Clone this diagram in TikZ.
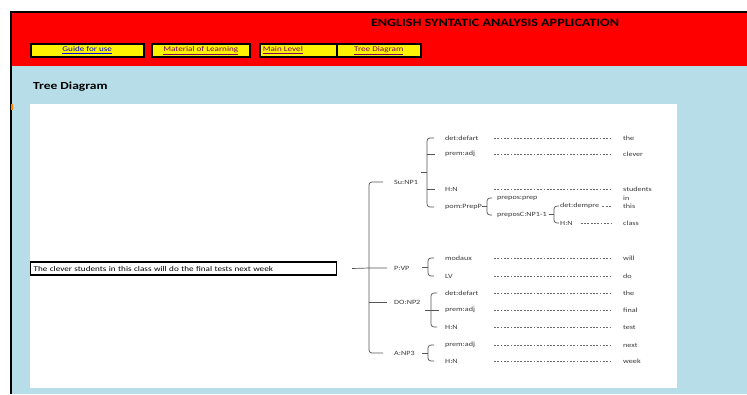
\documentclass[tikz,border=0pt]{standalone}
\usepackage{fontspec}
\setmainfont{Carlito}[FakeStretch=1.25]
\usetikzlibrary{calc}
\definecolor{skyb}{HTML}{B7DDE8}
\definecolor{lbl}{HTML}{3A3A3A}
\definecolor{linkblue}{HTML}{0000EE}
\definecolor{linkpurple}{HTML}{800060}
\definecolor{bargray}{HTML}{555555}
\tikzset{
  lab/.style={anchor=west, inner sep=0pt, font=\fontsize{6.5}{7.5}\selectfont, text=lbl},
  dots/.style={draw=lbl!75, line width=0.45pt, dash pattern=on 1.8pt off 1.5pt},
  brk/.style={draw=bargray, line width=0.7pt, rounded corners=3pt},
  btn/.style={draw=black, line width=1.5pt, fill=yellow, minimum height=13pt, inner sep=0pt, anchor=north west, font=\fontsize{7.3}{8}\selectfont},
}
\newcommand\mybrk[5]{%
  \draw[brk] ($(#1 |- #2.west)+(#4,0)$) -- (#1 |- #2.west) -- (#1 |- #3.west) -- ($(#1 |- #3.west)+(#4,0)$);
  \draw[brk] ($(#1 |- #2.west)!0.5!(#1 |- #3.west)$) -- ++(-#5,0);
}
\begin{document}
\begin{tikzpicture}[x=1pt,y=-1pt]
\useasboundingbox (0,0) rectangle (747,394);
\fill[white] (0,0) rectangle (747,394);
\fill[skyb] (12,13) rectangle (747,394);
\fill[red] (12,13) rectangle (747,66);
\draw[line width=2pt] (11,394) -- (11,12) -- (747,12);
\fill[orange] (11,104) rectangle (13,110);
\fill[white] (30,104) rectangle (677,388);

% header
\node[font=\bfseries\fontsize{11.3}{12}\selectfont] (title) at (495,23) {ENGLISH SYNTATIC ANALYSIS APPLICATION};
\node[btn, minimum width=113pt] (b1) at (30,43) {\textcolor{linkblue}{\underline{Guide for use}}};
\node[btn, minimum width=98pt] (b2) at (151,43) {\textcolor{linkpurple}{\underline{Material of Learning}}};
\node[btn, minimum width=77pt] (b3) at (259,43) {\makebox[71pt][l]{\textcolor{linkpurple}{\underline{Main Level}}}};
\node[btn, minimum width=84pt] (b4) at (336,43) {\textcolor{linkpurple}{\underline{Tree Diagram}}};
\node[anchor=west, inner sep=0pt, font=\bfseries\fontsize{10.8}{12}\selectfont] (sec) at (33,87) {Tree Diagram};

% sentence
\node[draw, line width=1.2pt, anchor=west, text width=300pt, inner xsep=3pt, inner ysep=0pt, minimum height=13pt, align=left, font=\fontsize{7.3}{8}\selectfont] (sent) at (30,268.5) {The clever students in this class will do the final tests next week};

% spines
\coordinate (s0) at (369,0);
\coordinate (s1) at (427,0);
\coordinate (s2) at (428,0);
\coordinate (s3) at (431,0);
\coordinate (s4) at (428,0);
\coordinate (s5) at (487,0);
\coordinate (s6) at (554,0);
\coordinate (dl) at (494,0);
\coordinate (dr) at (611,0);

% level 1
\node[lab] (su) at (394,182) {Su:NP1};
\node[lab] (pvp) at (394,268) {P:VP};
\node[lab] (do) at (394,302) {DO:NP2};
\node[lab] (anp) at (394,353) {A:NP3};

% level 2
\node[lab] (d1) at (445,138) {det:defart};
\node[lab] (p1) at (445,154) {prem:adj};
\node[lab] (h1) at (445,189) {H:N};
\node[lab] (pom) at (445,207) {pom:PrepP};
\node[lab] (mod) at (445,258) {modaux};
\node[lab] (lv) at (445,276) {LV};
\node[lab] (d2) at (445,293) {det:defart};
\node[lab] (p2) at (445,310) {prem:adj};
\node[lab] (h2) at (445,327) {H:N};
\node[lab] (p3) at (445,345) {prem:adj};
\node[lab] (h3) at (445,361) {H:N};

% level 3 / 4
\node[lab] (prep) at (497,198) {prepos:prep};
\node[lab] (pc) at (497,215) {preposC:NP1-1};
\node[lab] (dem) at (560,206) {det:dempre};
\node[lab] (h4) at (560,223) {H:N};

% words
\node[lab] (w1) at (623,138) {the};
\node[lab] (w2) at (623,154) {clever};
\node[lab] (w3) at (623,189) {students};
\node[lab] (w4) at (623,198) {in};
\node[lab] (w5) at (623,206) {this};
\node[lab] (w6) at (623,223) {class};
\node[lab] (w7) at (623,258) {will};
\node[lab] (w8) at (623,276) {do};
\node[lab] (w9) at (623,293) {the};
\node[lab] (w10) at (623,310) {final};
\node[lab] (w11) at (623,327) {test};
\node[lab] (w12) at (623,345) {next};
\node[lab] (w13) at (623,361) {week};

% dashed leaders
\foreach \a/\b in {d1/w1,p1/w2,h1/w3,mod/w7,lv/w8,d2/w9,p2/w10,h2/w11,p3/w12,h3/w13}
  \draw[dots] (dl |- \a.west) -- (dr |- \b.west);
\draw[dots] ($(dem.east)+(3,0)$) -- (dr |- w5.west);
\draw[dots] ($(h4.east)+(8,0)$) -- (dr |- w6.west);

% braces
\draw[brk] ($(s0 |- su.west)+(14,0)$) -- (s0 |- su.west) -- (s0 |- anp.west) -- ($(s0 |- anp.west)+(14,0)$);
\draw[brk] ($(sent.east)+(15,0)$) -- (s0 |- pvp.west) -- ++(18,0);
\draw[brk] (s0 |- do.west) -- ++(18,0);

\mybrk{s1}{d1}{pom}{7}{6}
\draw[brk] (s1 |- p1.west) -- ++(8,0);
\draw[brk] (s1 |- h1.west) -- ++(8,0);
\mybrk{s2}{mod}{lv}{6}{6}
\mybrk{s3}{d2}{h2}{6}{6}
\draw[brk] (s3 |- p2.west) -- ++(8,0);
\mybrk{s4}{p3}{h3}{6}{6}
\mybrk{s5}{prep}{pc}{5}{5}
\mybrk{s6}{dem}{h4}{5}{5}
\end{tikzpicture}
\end{document}
